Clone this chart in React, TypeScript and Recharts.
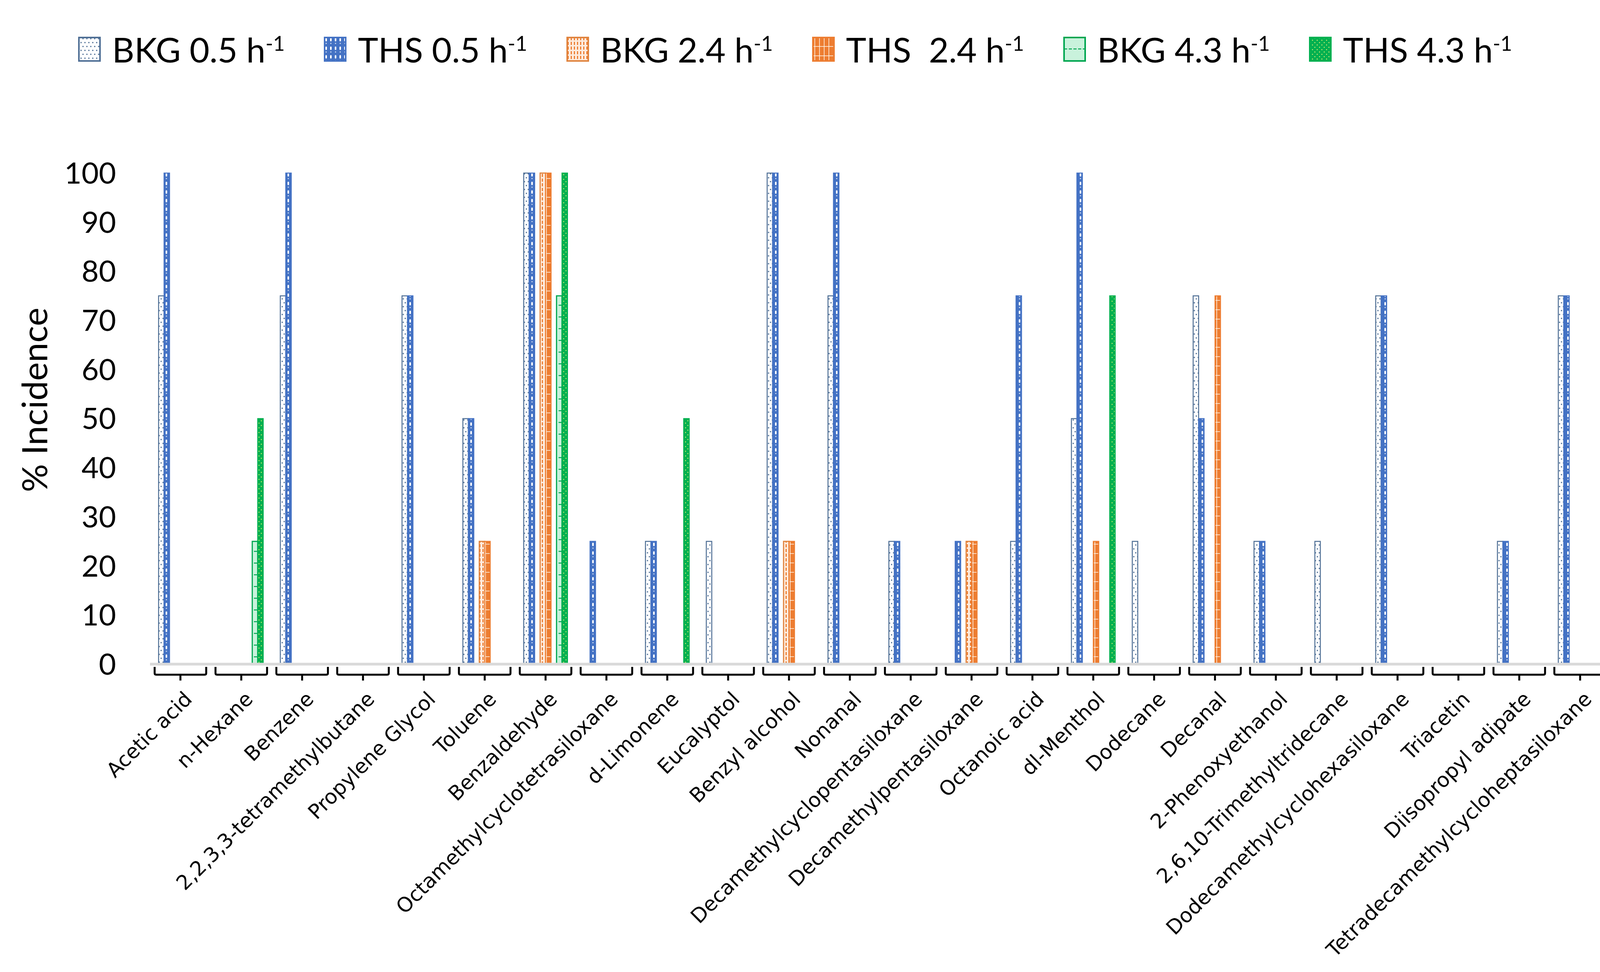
import React from 'react';
import { BarChart, Bar, XAxis, YAxis, Legend } from 'recharts';

// compounds on the category axis
const compounds = [
  'Acetic acid', 'n-Hexane', 'Benzene', '2,2,3,3-tetramethylbutane', 'Propylene Glycol', 'Toluene',
  'Benzaldehyde', 'Octamethylcyclotetrasiloxane', 'd-Limonene', 'Eucalyptol', 'Benzyl alcohol', 'Nonanal',
  'Decamethylcyclopentasiloxane', 'Decamethylpentasiloxane', 'Octanoic acid', 'dl-Menthol', 'Dodecane',
  'Decanal', '2-Phenoxyethanol', '2,6,10-Trimethyltridecane', 'Dodecamethylcyclohexasiloxane', 'Triacetin',
  'Diisopropyl adipate', 'Tetradecamethylcycloheptasiloxane',
];

// % incidence per compound
const bkg05 = [75, 0, 75, 0, 75, 50, 100, 0, 25, 25, 100, 75, 25, 0, 25, 50, 25, 75, 25, 25, 75, 0, 25, 75];
const ths05 = [100, 0, 100, 0, 75, 50, 100, 25, 25, 0, 100, 100, 25, 25, 75, 100, 0, 50, 25, 0, 75, 0, 25, 75];
const bkg24 = [0, 0, 0, 0, 0, 25, 100, 0, 0, 0, 25, 0, 0, 25, 0, 0, 0, 0, 0, 0, 0, 0, 0, 0];
const ths24 = [0, 0, 0, 0, 0, 25, 100, 0, 0, 0, 25, 0, 0, 25, 0, 25, 0, 75, 0, 0, 0, 0, 0, 0];
const bkg43 = [0, 25, 0, 0, 0, 0, 75, 0, 0, 0, 0, 0, 0, 0, 0, 0, 0, 0, 0, 0, 0, 0, 0, 0];
const ths43 = [0, 50, 0, 0, 0, 0, 100, 0, 50, 0, 0, 0, 0, 0, 0, 75, 0, 0, 0, 0, 0, 0, 0, 0];

const yTicks = [0, 10, 20, 30, 40, 50, 60, 70, 80, 90, 100];

const series = [
  { key: 'bkg05', label: 'BKG 0.5 h', values: bkg05, fill: 'url(#pat-bkg05)', stroke: '#4f6f95', sw: 2.5 },
  { key: 'ths05', label: 'THS 0.5 h', values: ths05, fill: 'url(#pat-ths05)', stroke: '#4472C4', sw: 2.5 },
  { key: 'bkg24', label: 'BKG 2.4 h', values: bkg24, fill: 'url(#pat-bkg24)', stroke: '#E0843F', sw: 3 },
  { key: 'ths24', label: 'THS  2.4 h', values: ths24, fill: 'url(#pat-ths24)', stroke: '#ED7D31', sw: 2.5 },
  { key: 'bkg43', label: 'BKG 4.3 h', values: bkg43, fill: 'url(#pat-bkg43)', stroke: '#00A650', sw: 3 },
  { key: 'ths43', label: 'THS 4.3 h', values: ths43, fill: 'url(#pat-ths43)', stroke: '#00B050', sw: 2.5 },
];

const rows = compounds.map((compound, i) => {
  const row: Record<string, string | number | null> = { compound };
  for (const s of series) row[s.key] = s.values[i] || null;
  return row;
});

// bar slots: pairs separated by an empty slot, as in the original
const slots = ['bkg05', 'ths05', 'spacerA', 'bkg24', 'ths24', 'spacerB', 'bkg43', 'ths43'];

function CompoundTick(props: any) {
  const { x, y, payload } = props;
  const h = 66;
  const d = `M${x - h},${y + 7} L${x - h},${y + 23} Q${x - h},${y + 27} ${x - h + 4},${y + 27} L${x + h - 4},${y + 27} Q${x + h},${y + 27} ${x + h},${y + 23} L${x + h},${y + 7} M${x},${y + 27} L${x},${y + 42}`;
  const tx = x + 20;
  const ty = y + 80;
  return (
    <g>
      <path d={d} fill="none" stroke="#000" strokeWidth={5} />
      <text
        x={tx}
        y={ty}
        transform={`rotate(-45 ${tx} ${ty})`}
        textAnchor="end"
        dominantBaseline="central"
        fontFamily="DejaVu Sans"
        fontSize={52}
        fill="#000"
      >
        {payload.value}
      </text>
    </g>
  );
}

function YTitle(props: any) {
  const { viewBox } = props;
  const x = 121;
  const y = viewBox.y + viewBox.height / 2 - 48;
  return (
    <text x={x} y={y} transform={`rotate(-90 ${x} ${y})`} textAnchor="middle" fontFamily="Lato" fontSize={90} fill="#000">
      % Incidence
    </text>
  );
}

function LegendBox() {
  return (
    <div style={{ display: 'flex', alignItems: 'center', paddingLeft: 200, fontFamily: 'Lato', fontSize: 88, lineHeight: 1, color: '#000', whiteSpace: 'pre' }}>
      {series.map((s) => (
        <div key={s.key} style={{ display: 'flex', alignItems: 'center', marginRight: 100 }}>
          <svg width={58} height={64} style={{ display: 'block' }}>
            <rect x={2} y={2} width={54} height={60} fill={s.fill} stroke={s.stroke} strokeWidth={4} />
          </svg>
          <span style={{ marginLeft: 29 }}>
            {s.label}
            <sup style={{ fontSize: 52 }}>-1</sup>
          </span>
        </div>
      ))}
    </div>
  );
}

export default function App() {
  return (
    <div style={{ position: 'absolute', left: 0, top: 0, width: 4163, height: 2488, background: '#fff' }}>
      <BarChart
        width={4163}
        height={2488}
        data={rows}
        margin={{ top: 443, right: 40, left: 0, bottom: 0 }}
        barGap={0}
        barSize={14}
      >
        <defs>
          <pattern id="pat-bkg05" width="10" height="20" patternUnits="userSpaceOnUse">
            <rect width="10" height="20" fill="#ffffff" />
            <circle cx="2.5" cy="5" r="1.8" fill="#4f6f95" />
            <circle cx="7.5" cy="15" r="1.8" fill="#4f6f95" />
          </pattern>
          <pattern id="pat-ths05" width="12" height="22" patternUnits="userSpaceOnUse">
            <rect width="12" height="22" fill="#4472C4" />
            <rect x="4" y="3" width="4" height="9" rx="2" fill="#ffffff" />
            <circle cx="6" cy="17" r="1.6" fill="#dce6f5" />
          </pattern>
          <pattern id="pat-bkg24" width="8" height="12" patternUnits="userSpaceOnUse">
            <rect width="8" height="12" fill="#fdebdd" />
            <rect x="3" y="1" width="3" height="8" fill="#ED7D31" />
          </pattern>
          <pattern id="pat-ths24" width="12" height="24" patternUnits="userSpaceOnUse">
            <rect width="12" height="24" fill="#ED7D31" />
            <rect x="6" y="0" width="1.6" height="24" fill="#fff3e6" />
            <rect x="0" y="0" width="12" height="1.6" fill="#fff3e6" />
          </pattern>
          <pattern id="pat-bkg43" width="12" height="30" patternUnits="userSpaceOnUse">
            <rect width="12" height="30" fill="#c9f2dc" />
            <rect x="2" y="0" width="8" height="2.5" fill="#00A650" />
          </pattern>
          <pattern id="pat-ths43" width="12" height="12" patternUnits="userSpaceOnUse">
            <rect width="12" height="12" fill="#00B050" />
            <circle cx="3" cy="3" r="1.5" fill="#c8e86a" />
            <circle cx="9" cy="9" r="1.5" fill="#c8e86a" />
          </pattern>
        </defs>
        <XAxis
          dataKey="compound"
          interval={0}
          tick={<CompoundTick />}
          tickLine={false}
          tickSize={0}
          tickMargin={0}
          height={788}
          axisLine={{ stroke: '#d9d9d9', strokeWidth: 7 }}
        />
        <YAxis
          width={384}
          domain={[0, 100]}
          ticks={yTicks}
          interval={0}
          tickLine={false}
          axisLine={false}
          tickSize={0}
          tickMargin={87}
          tick={{ fontFamily: 'Lato', fontSize: 76, fill: '#000' }}
          label={<YTitle />}
        />
        <Legend
          verticalAlign="middle"
          align="center"
          layout="horizontal"
          content={() => <LegendBox />}
          wrapperStyle={{ top: 82, left: 0, width: 4163, height: 90 }}
        />
        {slots.map((k) => {
          const s = series.find((x) => x.key === k);
          if (!s) return <Bar key={k} dataKey={k} legendType="none" isAnimationActive={false} />;
          return (
            <Bar
              key={k}
              dataKey={k}
              name={s.label}
              fill={s.fill}
              stroke={s.stroke}
              strokeWidth={s.sw}
              isAnimationActive={false}
            />
          );
        })}
      </BarChart>
    </div>
  );
}
